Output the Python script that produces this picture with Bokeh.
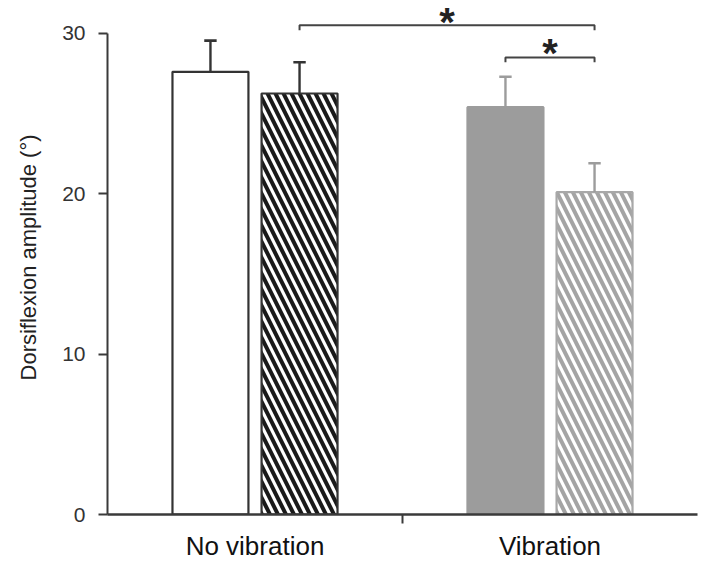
from bokeh.plotting import figure
from bokeh.models import FixedTicker, Range1d
from bokeh.embed import file_html
from bokeh.resources import INLINE
from bokeh.core.properties import value

# ---- data ----
groups = ["No vibration", "Vibration"]
group_index = [0, 0, 1, 1]
sub_index = [0, 1, 0, 1]
means = [27.6, 26.25, 25.4, 20.1]
sem = [1.95, 1.95, 1.9, 1.8]
brackets = [(1, 3, 30.5), (2, 3, 28.5)]   # (bar a, bar b, height)
star_base = [30.71, 28.76]
y_ticks = [0, 10, 20, 30]

# ---- styles ----
fill_colors = ["white", "white", "#9c9c9c", "white"]
line_colors = ["#333333", "#333333", "#9c9c9c", "#a8a8a8"]
hatch_patterns = [" ", "\\", " ", "\\"]
hatch_colors = ["#1a1a1a", "#1a1a1a", "#9c9c9c", "#a4a4a4"]
err_colors = ["#333333", "#333333", "#9c9c9c", "#9c9c9c"]

offset = 0.151
bar_w = 0.2575
xs = [g + 0.5 + (s - 0.5) * 2 * offset for g, s in zip(group_index, sub_index)]

p = figure(width=701, height=563, output_backend="svg", toolbar_location=None,
           x_range=Range1d(0, 2), y_range=Range1d(0, 32.05),
           min_border_left=107, min_border_right=4, min_border_top=0, min_border_bottom=49)
p.outline_line_color = None
p.xgrid.visible = False
p.ygrid.visible = False
p.background_fill_color = "white"
p.border_fill_color = "white"

# bars
p.vbar(x=xs, top=means, width=bar_w, bottom=0,
       fill_color=fill_colors, line_color=line_colors, line_width=2.2,
       hatch_pattern=hatch_patterns, hatch_color=hatch_colors,
       hatch_scale=16, hatch_weight=4)

# error bars
tops = [m + e for m, e in zip(means, sem)]
p.segment(x0=xs, y0=means, x1=xs, y1=tops, line_color=err_colors, line_width=2.4)
cap = 0.021
p.segment(x0=[x - cap for x in xs], y0=tops, x1=[x + cap for x in xs], y1=tops,
          line_color=err_colors, line_width=2.6)

# significance brackets
bxs, bys, sx = [], [], []
for a, b, h in brackets:
    bxs.append([xs[a], xs[a], xs[b], xs[b]])
    bys.append([h - 0.3, h, h, h - 0.3])
    sx.append((xs[a] + xs[b]) / 2)
p.multi_line(xs=bxs, ys=bys, line_color="#444444", line_width=2)
p.text(x=sx, y=star_base, text=["*", "*"], text_align="center", text_baseline="alphabetic",
       text_font=value("Liberation Sans"), text_font_style="bold",
       text_font_size="40px", text_color="#222222")

# y axis
ya = p.yaxis[0]
ya.ticker = FixedTicker(ticks=y_ticks)
ya.bounds = (0, 30)
ya.axis_label = "Dorsiflexion amplitude (\u00b0)"
ya.axis_label_text_font = "Liberation Sans"
ya.axis_label_text_font_style = "normal"
ya.axis_label_text_font_size = "22px"
ya.axis_label_text_color = "#222222"
ya.axis_label_standoff = 18
ya.major_label_text_font = "Liberation Sans"
ya.major_label_text_font_size = "21px"
ya.major_label_text_color = "#333333"
ya.major_label_standoff = 13
ya.axis_line_color = "#3a3a3a"
ya.axis_line_width = 2
ya.major_tick_line_color = "#3a3a3a"
ya.major_tick_line_width = 2
ya.major_tick_out = 9
ya.major_tick_in = 0
ya.minor_tick_line_color = None

# x axis
xa = p.xaxis[0]
xa.ticker = FixedTicker(ticks=[0.5, 1.5], minor_ticks=[1.0])
xa.major_label_overrides = {0.5: groups[0], 1.5: groups[1]}
xa.major_label_text_font = "Liberation Sans"
xa.major_label_text_font_size = "26px"
xa.major_label_text_color = "#111111"
xa.major_label_standoff = 7
xa.axis_line_color = "#3a3a3a"
xa.axis_line_width = 2.4
xa.major_tick_line_color = None
xa.major_tick_out = 0
xa.major_tick_in = 0
xa.minor_tick_line_color = "#3a3a3a"
xa.minor_tick_line_width = 2
xa.minor_tick_out = 9
xa.minor_tick_in = 0

open("out.html", "w").write(file_html(p, INLINE))
